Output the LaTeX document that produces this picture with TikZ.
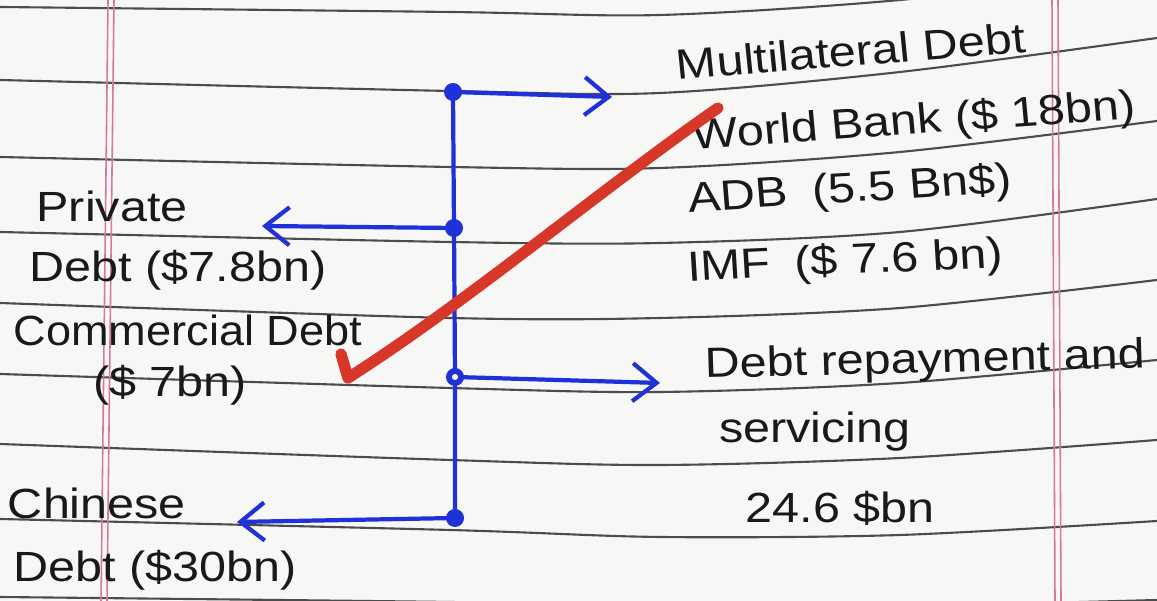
\documentclass[tikz,border=0pt]{standalone}
\usepackage{fontspec}
\setmainfont{Liberation Sans}
\usetikzlibrary{arrows.meta}
\definecolor{inkblue}{RGB}{30,50,215}
\definecolor{inkred}{RGB}{215,55,40}
\definecolor{inkblack}{RGB}{25,25,25}
\definecolor{paper}{RGB}{247,247,245}
\definecolor{marginred}{RGB}{215,120,150}
\tikzset{
	link/.style={inkblue, line width=1.2pt, line cap=round},
	tip/.style={link, -{Straight Barb[length=2.4mm, width=3.8mm]}},
	hand/.style={inkblack, font=\fontsize{12pt}{14pt}\selectfont, inner sep=0pt, xscale=1.15},
	rule/.style={black!70, line width=0.6pt},
	margin/.style={marginred, line width=0.45pt},
	tick/.style={inkred, line width=3.2pt, line cap=round, line join=round}
}
\begin{document}
\begin{tikzpicture}[x=0.01cm, y=-0.01cm]

	\fill[paper] (0,0) rectangle (1157,601);
	\useasboundingbox (0,0) rectangle (1157,601);

	% ruled paper
	\foreach \a/\b/\c/\d/\e in {
	7/12/15/0/-30,
	80/91/93/72/38,
	157/167/168/152/121,
	232/242/243/232/199,
	303/318/318/308/280,
	374/388/392/383/360,
	444/460/465/458/440,
	519/530/537/535/521,
	597/602/606/606/600}
	{
		\draw[rule] plot[smooth] coordinates {(0,\a) (450,\b) (660,\c) (900,\d) (1157,\e)};
	};
	\draw[margin] (108,0) -- (101,601);
	\draw[margin] (114,0) -- (107,601);
	\draw[margin] (1052,0) -- (1055,601);
	\draw[margin] (1058,0) -- (1061,601);

	\node (d1) at (453,92) {};
	\node (d2) at (454,228) {};
	\node (d3) at (455,377) {};
	\node (d4) at (455,518) {};
	\coordinate (e1) at (612,97);
	\coordinate (e2) at (262,226);
	\coordinate (e3) at (660,383);
	\coordinate (e4) at (237,522);

	\draw[link] (d1.center) -- (d2.center) -- (d3.center) -- (d4.center);
	\foreach \i in {1,...,4}
	{
		\draw[tip] (d\i.center) -- (e\i);
		\fill[inkblue] (d\i) circle [radius=0.09cm];
	};
	\fill[white] (d3) circle [radius=0.03cm];

	\node[hand, rotate=5] (multi) at (851,51) {Multilateral Debt};
	\node[hand, rotate=4.5] (wb) at (914,123) {World Bank (\$ 18bn)};
	\node[hand, rotate=4] (adb) at (850,191) {ADB\enspace (5.5 Bn\$)};
	\node[hand, rotate=3] (imf) at (845,263) {IMF\enspace(\$ 7.6 bn)};
	\node[hand] (priv) at (112,206) {Private};
	\node[hand] (privamt) at (178,270) {Debt (\$7.8bn)};
	\node[hand, xscale=0.93] (comm) at (188,330) {Commercial Debt};
	\node[hand] (commamt) at (170,385) {(\$ 7bn)};
	\node[hand, rotate=1.5] (repay) at (925,362) {Debt repayment and};
	\node[hand] (serv) at (815,432) {servicing};
	\node[hand] (repayamt) at (840,508) {24.6 \$bn};
	\node[hand] (chin) at (97,503) {Chinese};
	\node[hand] (chinamt) at (155,570) {Debt (\$30bn)};

	% red tick
	\coordinate (c1) at (341,354);
	\coordinate (c2) at (348,378);
	\coordinate (c3) at (718,108);
	\draw[tick] (c1) -- (c2) .. controls (470,300) and (600,190) .. (c3);

\end{tikzpicture}
\end{document}
